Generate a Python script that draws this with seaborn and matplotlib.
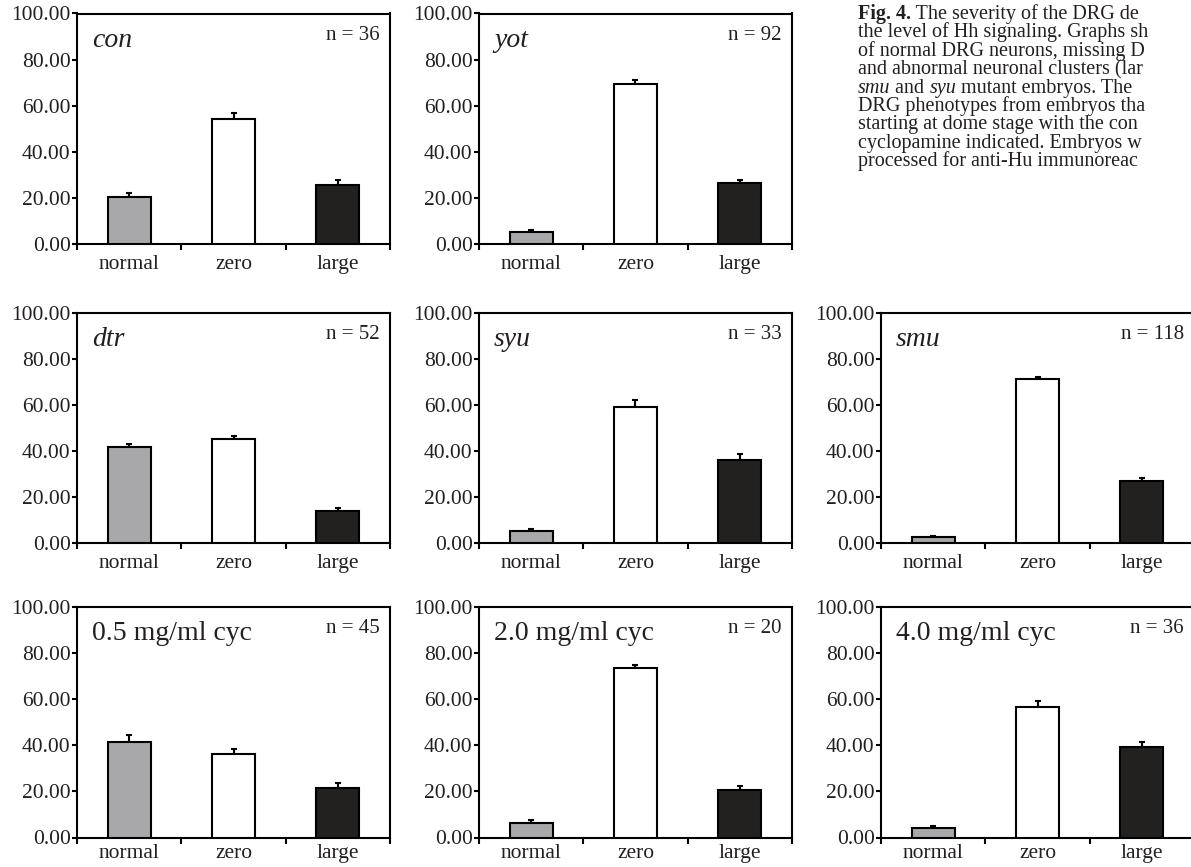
import numpy as np
import pandas as pd
import seaborn as sns
import matplotlib.pyplot as plt
from matplotlib.text import Annotation
from matplotlib.ticker import FormatStrFormatter

# data (percent of DRG segments)
categories = ["normal", "zero", "large"]
panel_labels = ["con", "yot", "dtr", "syu", "smu",
                "0.5 mg/ml cyc", "2.0 mg/ml cyc", "4.0 mg/ml cyc"]
label_italic = [True, True, True, True, True, False, False, False]
n_counts = [36, 92, 52, 33, 118, 45, 20, 36]

con_mean = [20.5, 54.4, 25.5]
con_err = [1.8, 2.3, 2.3]
yot_mean = [5.1, 69.2, 26.3]
yot_err = [1.0, 1.8, 1.4]
dtr_mean = [41.5, 45.0, 13.6]
dtr_err = [1.6, 1.6, 1.3]
syu_mean = [5.1, 58.9, 35.8]
syu_err = [0.6, 3.1, 2.9]
smu_mean = [2.2, 71.1, 27.0]
smu_err = [0.5, 1.2, 1.0]
cyc05_mean = [41.3, 36.0, 21.5]
cyc05_err = [2.9, 2.5, 2.1]
cyc20_mean = [6.1, 73.2, 20.5]
cyc20_err = [1.3, 1.6, 1.9]
cyc40_mean = [4.2, 56.6, 39.0]
cyc40_err = [0.6, 2.4, 2.3]

means = [con_mean, yot_mean, dtr_mean, syu_mean, smu_mean, cyc05_mean, cyc20_mean, cyc40_mean]
errors = [con_err, yot_err, dtr_err, syu_err, smu_err, cyc05_err, cyc20_err, cyc40_err]

caption_lines = [
    [("Fig. 4.", "normal", "bold"), (" The severity of the DRG de", "normal", "normal")],
    [("the level of Hh signaling. Graphs sh", "normal", "normal")],
    [("of normal DRG neurons, missing D", "normal", "normal")],
    [("and abnormal neuronal clusters (lar", "normal", "normal")],
    [("smu", "italic", "normal"), (" and ", "normal", "normal"), ("syu", "italic", "normal"),
     (" mutant embryos. The", "normal", "normal")],
    [("DRG phenotypes from embryos tha", "normal", "normal")],
    [("starting at dome stage with the con", "normal", "normal")],
    [("cyclopamine indicated. Embryos w", "normal", "normal")],
    [("processed for anti-Hu immunoreac", "normal", "normal")],
]

INK = "#231f20"
bar_colors = ["#a7a8ac", "#ffffff", INK]

sns.set_theme(style="ticks", rc={
    "axes.edgecolor": "black", "text.color": INK,
    "xtick.color": "black", "ytick.color": "black",
    "xtick.labelcolor": INK, "ytick.labelcolor": INK,
})
plt.rcParams["font.family"] = ["Liberation Serif", "DejaVu Serif"]

W, H = 1191, 867
fig = plt.figure(figsize=(W / 100, H / 100), dpi=100)

col_left = [77, 479, 881]
col_width = 313
row_span = [(13.5, 244), (313, 542.5), (606.5, 837.5)]
row_label_pad = [8, 8, 4.5]
slots = [(0, 0), (1, 0), (0, 1), (1, 1), (2, 1), (0, 2), (1, 2), (2, 2)]

for i, label in enumerate(panel_labels):
    c, r = slots[i]
    top, bot = row_span[r]
    ax = fig.add_axes([col_left[c] / W, 1 - bot / H, col_width / W, (bot - top) / H])

    df = pd.DataFrame({"phenotype": categories, "percent": means[i]})
    sns.barplot(data=df, x="phenotype", y="percent", hue="phenotype",
                palette=bar_colors, width=0.41, edgecolor="black",
                linewidth=1.5, legend=False, ax=ax, zorder=3)
    ax.errorbar(np.arange(3), means[i], yerr=[np.zeros(3), errors[i]],
                fmt="none", ecolor="black", elinewidth=1.5, capsize=2,
                capthick=1.5, zorder=2)

    ax.set_xlim(-0.5, 2.5)
    ax.set_ylim(0, 100)
    ax.set_xlabel("")
    ax.set_ylabel("")
    ax.set_yticks(np.arange(0, 101, 20))
    ax.yaxis.set_major_formatter(FormatStrFormatter("%.2f"))
    ax.set_xticks([-0.5, 0.5, 1.5, 2.5])
    ax.set_xticklabels([])
    ax.set_xticks([0, 1, 2], minor=True)
    ax.set_xticklabels(categories, minor=True)
    ax.tick_params(axis="x", which="major", length=4, width=1.5, direction="out")
    ax.tick_params(axis="x", which="minor", length=0, pad=row_label_pad[r], labelsize=15.5)
    ax.tick_params(axis="y", length=3.5, width=1.5, pad=1, labelsize=15.5)
    for sp in ax.spines.values():
        sp.set_visible(True)
        sp.set_linewidth(1.5)
        sp.set_color("black")

    ax.text(0.048, 0.855, label, transform=ax.transAxes, fontsize=20,
            fontstyle="italic" if label_italic[i] else "normal", va="baseline")
    ax.text(0.968, 0.887, f"n = {n_counts[i]}", transform=ax.transAxes,
            fontsize=15, ha="right", va="baseline")

# caption block in the empty top-right slot
cap_x, cap_y0, cap_step = 858, 19, 18.4
cap_size = 14.5
for k, parts in enumerate(caption_lines):
    y = 1 - (cap_y0 + k * cap_step) / H
    prev = None
    for text, style, weight in parts:
        if prev is None:
            prev = fig.text(cap_x / W, y, text, fontsize=cap_size, fontstyle=style,
                            fontweight=weight, ha="left", va="baseline")
        else:
            ann = Annotation(text, xy=(1, y), xycoords=(prev, "figure fraction"),
                             fontsize=cap_size, fontstyle=style, fontweight=weight,
                             ha="left", va="baseline", color=INK)
            fig.add_artist(ann)
            prev = ann

fig.savefig("out.png", dpi=100)
